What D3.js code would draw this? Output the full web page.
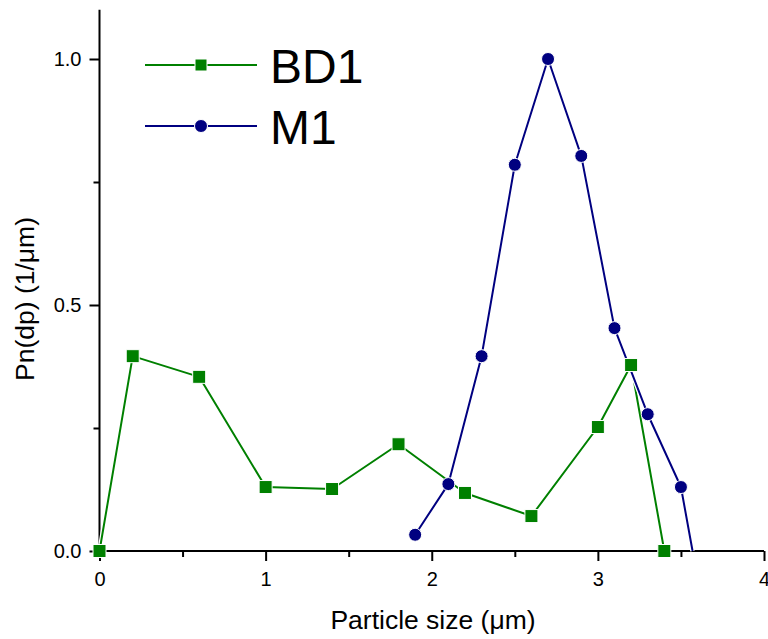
<!DOCTYPE html>
<html><head><meta charset="utf-8">
<script src="https://cdn.jsdelivr.net/npm/d3@7"></script>
<style>body{margin:0;background:#fff}svg{display:block}text{font-family:Arial,"Liberation Sans",sans-serif}</style>
</head><body>
<svg id="c" width="768" height="639"></svg>
<script>
const bdX = [0, 0.2, 0.6, 1.0, 1.4, 1.8, 2.2, 2.6, 3.0, 3.2, 3.4];
const bdY = [0, 0.396, 0.354, 0.130, 0.126, 0.217, 0.118, 0.071, 0.252, 0.378, 0];
const m1X = [1.9, 2.1, 2.3, 2.5, 2.7, 2.9, 3.1, 3.3, 3.5];
const m1Y = [0.033, 0.136, 0.396, 0.785, 1.0, 0.803, 0.453, 0.278, 0.130];
const m1EndX = 3.57, m1EndY = 0;
const xTicks = [0, 1, 2, 3, 4];
const yTicks = [0.0, 0.5, 1.0];
const seriesNames = ["BD1", "M1"];

const svg = d3.select("#c");
const x = d3.scaleLinear().domain([0, 4]).range([99.5, 764]);
const y = d3.scaleLinear().domain([0, 1]).range([551, 59]);
const green = "#008000", navy = "#000080";

// axes
const xAxis = svg.append("g").attr("transform", `translate(0,${y(0)})`);
xAxis.call(d3.axisBottom(x).tickValues(xTicks).tickFormat(d3.format("d")).tickSize(10).tickPadding(11));
xAxis.append("g").call(d3.axisBottom(x).tickValues([0.5,1.5,2.5,3.5]).tickSize(6).tickFormat(""));
const yAxis = svg.append("g").attr("transform", `translate(${x(0)},0)`);
yAxis.call(d3.axisLeft(y).tickValues(yTicks).tickFormat(d3.format(".1f")).tickSize(10).tickPadding(8));
yAxis.append("g").call(d3.axisLeft(y).tickValues([0.25,0.75]).tickSize(6).tickFormat(""));
svg.selectAll(".domain").remove();
svg.selectAll("g").attr("font-size", null).attr("font-family", null);
svg.append("line").attr("x1", x(0)).attr("x2", x(4)).attr("y1", y(0)).attr("y2", y(0)).attr("stroke","#000").attr("stroke-width",2);
svg.append("line").attr("x1", x(0)).attr("x2", x(0)).attr("y1", y(0)).attr("y2", y(1.1)).attr("stroke","#000").attr("stroke-width",2);
svg.selectAll(".tick line").attr("stroke","#000").attr("stroke-width",2);
svg.selectAll(".tick text").attr("fill","#000").style("font-size","20px");

// titles
svg.append("text").attr("x", 433).attr("y", 629).attr("text-anchor","middle").style("font-size","26.5px").text("Particle size (μm)");
svg.append("text").attr("transform","translate(34,299) rotate(-90)").attr("text-anchor","middle").style("font-size","26.5px").text("Pn(dp) (1/μm)");

const line = d3.line().x(d => x(d[0])).y(d => y(d[1]));
const bd = bdX.map((v,i) => [v, bdY[i]]);
const m1 = m1X.map((v,i) => [v, m1Y[i]]);
const m1Line = m1.concat([[m1EndX, m1EndY]]);

function halo(data, col){
  svg.append("path").datum(data).attr("d", line).attr("fill","none").attr("stroke","#fff").attr("stroke-width",4.5).attr("stroke-linejoin","round");
  svg.append("path").datum(data).attr("d", line).attr("fill","none").attr("stroke",col).attr("stroke-width",2).attr("stroke-linejoin","round");
}
halo(bd, green);
halo(m1Line, navy);

svg.append("g").selectAll("rect").data(bd).join("rect")
  .attr("x", d => x(d[0]) - 6.5).attr("y", d => y(d[1]) - 6.5).attr("width", 13).attr("height", 13)
  .attr("fill", green).attr("stroke","#fff").attr("stroke-width",1);
svg.append("g").selectAll("circle").data(m1).join("circle")
  .attr("cx", d => x(d[0])).attr("cy", d => y(d[1])).attr("r", 6.5)
  .attr("fill", navy).attr("stroke","#fff").attr("stroke-width",1);

// legend
const leg = [{name: seriesNames[0], col: green, yy: 65, shape: "rect"}, {name: seriesNames[1], col: navy, yy: 126, shape: "circle"}];
leg.forEach(l => {
  svg.append("line").attr("x1",145).attr("x2",257).attr("y1",l.yy).attr("y2",l.yy).attr("stroke",l.col).attr("stroke-width",2);
  if (l.shape === "rect") svg.append("rect").attr("x",195).attr("y",l.yy-6).attr("width",12).attr("height",12).attr("fill",l.col).attr("stroke","#fff");
  else svg.append("circle").attr("cx",201).attr("cy",l.yy).attr("r",6.5).attr("fill",l.col).attr("stroke","#fff");
  svg.append("text").attr("x",270).attr("y",l.yy+18).style("font-size","48px").attr("fill","#000").text(l.name);
});
</script>
</body></html>
